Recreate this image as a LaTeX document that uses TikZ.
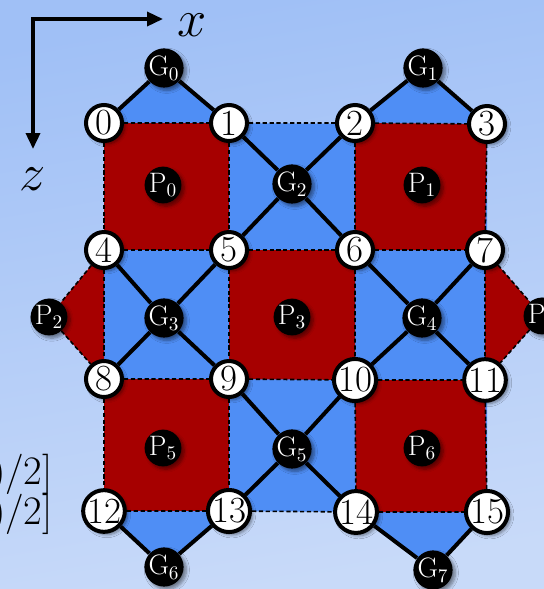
\documentclass[tikz,border=0pt]{standalone}
\usepackage{amsmath}
\usepackage{tikz}
\usetikzlibrary{arrows.meta, backgrounds, shadows.blur}
\definecolor{slidetop}{RGB}{160,192,246}
\definecolor{slidebot}{RGB}{200,218,249}
\definecolor{tileblue}{RGB}{79,142,245}
\definecolor{tilered}{RGB}{166,0,0}
\tikzset{
  qubit/.style={
    circle, draw=black, fill=white, line width=0.08cm,
    minimum size=0.72cm, inner sep=0pt,
    font=\fontsize{21}{24}\selectfont,
    blur shadow={shadow xshift=1.6pt, shadow yshift=-1.6pt,
                 shadow blur steps=6, shadow opacity=45}
  },
  gauge/.style={
    circle, fill=black, minimum size=0.68cm, inner sep=0pt,
    text=white, font=\fontsize{16}{18}\selectfont,
    blur shadow={shadow xshift=1.6pt, shadow yshift=-1.6pt,
                 shadow blur steps=6, shadow opacity=45}
  },
  bond/.style={line width=0.08cm, black},
  tileedge/.style={line width=0.9pt, black, dash pattern=on 2.4pt off 1.5pt},
  axisarrow/.style={line width=0.07cm, -{Triangle[length=0.32cm, width=0.28cm]}},
  axislabel/.style={font=\fontsize{24.88}{30}\selectfont, scale=1.2, inner sep=0pt},
  rotlabel/.style={font=\fontsize{23}{27}\selectfont, inner sep=0pt, anchor=base east},
}
\begin{document}
\begin{tikzpicture}[x=0.02cm, y=-0.02cm]
  \useasboundingbox (0,0) rectangle (544,589);
  \clip (0,0) rectangle (544,589);

  \coordinate (axo) at (33,19);
  \coordinate (axx) at (163,19);
  \coordinate (axz) at (33,149);
  \node[axislabel] (xlab) at (192,25) {$x$};
  \node[axislabel] (zlab) at (33,179) {$z$};
  \draw[axisarrow] ([xshift=-0.035cm]axo) -- (axx);
  \draw[axisarrow] (axo) -- (axz);

  \node[rotlabel] (rot1) at (53,484) {)/2]};
  \node[rotlabel] (rot2) at (53,524) {)/2]};

  \node[qubit] (q0) at (104,123) {0};
  \node[qubit] (q1) at (229,123) {1};
  \node[qubit] (q2) at (355,123) {2};
  \node[qubit] (q3) at (487,124) {3};
  \node[qubit] (q4) at (104,250) {4};
  \node[qubit] (q5) at (229,250) {5};
  \node[qubit] (q6) at (355,250) {6};
  \node[qubit] (q7) at (485,250) {7};
  \node[qubit] (q8) at (104,379) {8};
  \node[qubit] (q9) at (229,379) {9};
  \node[qubit] (q10) at (355,380) {10};
  \node[qubit] (q11) at (485,380) {11};
  \node[qubit] (q12) at (104,511) {12};
  \node[qubit] (q13) at (229,511) {13};
  \node[qubit] (q14) at (356,512) {14};
  \node[qubit] (q15) at (487,512) {15};

  \node[gauge] (g0) at (164,68) {G$_0$};
  \node[gauge] (g1) at (423,68) {G$_1$};
  \node[gauge] (g2) at (292,184) {G$_2$};
  \node[gauge] (g3) at (164,318) {G$_3$};
  \node[gauge] (g4) at (422,318) {G$_4$};
  \node[gauge] (g5) at (292,449) {G$_5$};
  \node[gauge] (g6) at (164,567) {G$_6$};
  \node[gauge] (g7) at (433,570) {G$_7$};

  \node[gauge] (p0) at (163,185) {P$_0$};
  \node[gauge] (p1) at (422,185) {P$_1$};
  \node[gauge] (p2) at (49,317) {P$_2$};
  \node[gauge] (p3) at (292,317) {P$_3$};
  \node[gauge] (p4) at (542,316) {P$_4$};
  \node[gauge] (p5) at (163,448) {P$_5$};
  \node[gauge] (p6) at (422,448) {P$_6$};

  \begin{pgfonlayer}{background}
    \shade[top color=slidetop, bottom color=slidebot, shading angle=10]
      (0,0) rectangle (544,589);
    \fill[tileblue] (q0.center) -- (q3.center) -- (q15.center) -- (q12.center) -- cycle;
    \fill[tileblue] (q0.center) -- (g0.center) -- (q1.center) -- cycle;
    \fill[tileblue] (q2.center) -- (g1.center) -- (q3.center) -- cycle;
    \fill[tileblue] (q12.center) -- (g6.center) -- (q13.center) -- cycle;
    \fill[tileblue] (q14.center) -- (g7.center) -- (q15.center) -- cycle;
    \fill[tilered] (q0.center) -- (q1.center) -- (q5.center) -- (q4.center) -- cycle;
    \fill[tilered] (q2.center) -- (q3.center) -- (q7.center) -- (q6.center) -- cycle;
    \fill[tilered] (q5.center) -- (q6.center) -- (q10.center) -- (q9.center) -- cycle;
    \fill[tilered] (q8.center) -- (q9.center) -- (q13.center) -- (q12.center) -- cycle;
    \fill[tilered] (q10.center) -- (q11.center) -- (q15.center) -- (q14.center) -- cycle;
    \fill[tilered] (q4.center) -- (p2.center) -- (q8.center) -- cycle;
    \fill[tilered] (q7.center) -- (p4.center) -- (q11.center) -- cycle;

    \draw[tileedge] (q0) -- (q1) -- (q2) -- (q3);
    \draw[tileedge] (q4) -- (q5) -- (q6) -- (q7);
    \draw[tileedge] (q8) -- (q9) -- (q10) -- (q11);
    \draw[tileedge] (q12) -- (q13) -- (q14) -- (q15);
    \draw[tileedge] (q0) -- (q4) -- (q8) -- (q12);
    \draw[tileedge] (q1) -- (q5) -- (q9) -- (q13);
    \draw[tileedge] (q2) -- (q6) -- (q10) -- (q14);
    \draw[tileedge] (q3) -- (q7) -- (q11) -- (q15);
    \draw[tileedge] (q4) -- (p2) -- (q8);
    \draw[tileedge] (q7) -- (p4) -- (q11);

    \draw[bond] (q0) -- (g0) -- (q1);
    \draw[bond] (q2) -- (g1) -- (q3);
    \draw[bond] (q1) -- (g2) -- (q6);
    \draw[bond] (q2) -- (g2) -- (q5);
    \draw[bond] (q4) -- (g3) -- (q9);
    \draw[bond] (q5) -- (g3) -- (q8);
    \draw[bond] (q6) -- (g4) -- (q11);
    \draw[bond] (q7) -- (g4) -- (q10);
    \draw[bond] (q9) -- (g5) -- (q14);
    \draw[bond] (q10) -- (g5) -- (q13);
    \draw[bond] (q12) -- (g6) -- (q13);
    \draw[bond] (q14) -- (g7) -- (q15);
  \end{pgfonlayer}
\end{tikzpicture}
\end{document}
